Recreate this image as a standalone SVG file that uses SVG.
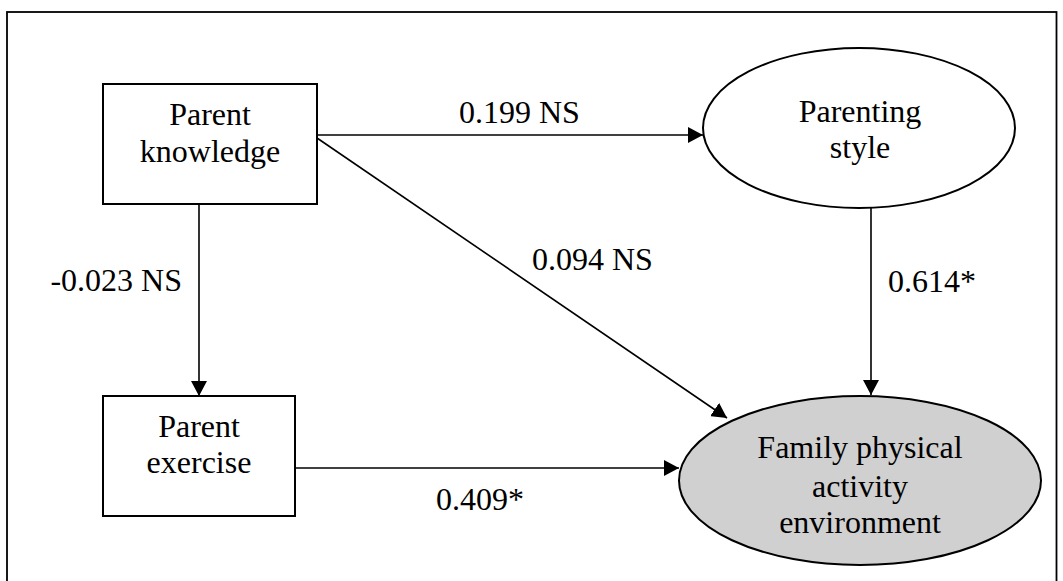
<svg xmlns="http://www.w3.org/2000/svg" width="1063" height="581" viewBox="0 0 1063 581">
<style>
text{font-family:"Liberation Serif","Times New Roman",serif;font-size:32px;fill:#000}
.n{text-anchor:middle}
.box{fill:#fff;stroke:#000;stroke-width:2}
.conn line{stroke:#000;stroke-width:1.6;fill:none}
</style>
<defs>
<marker id="ah" markerUnits="userSpaceOnUse" markerWidth="15" markerHeight="16" refX="15" refY="8" orient="auto">
<path d="M0,0 L15,8 L0,16 z" fill="#000"/>
</marker>
</defs>
<rect x="0" y="0" width="1063" height="581" fill="#fff"/>
<rect x="7" y="12" width="1049.5" height="600" fill="none" stroke="#000" stroke-width="1.8"/>
<g id="connectors" class="conn">
<line x1="317" y1="135" x2="703" y2="135" marker-end="url(#ah)"/>
<line x1="317" y1="138" x2="727" y2="418" marker-end="url(#ah)"/>
<line x1="199" y1="204" x2="199" y2="396" marker-end="url(#ah)"/>
<line x1="871" y1="207" x2="871" y2="395" marker-end="url(#ah)"/>
<line x1="295" y1="468" x2="679" y2="468" marker-end="url(#ah)"/>
<text x="459" y="123">0.199 NS</text>
<text x="532" y="270">0.094 NS</text>
<text x="182" y="291" text-anchor="end">-0.023 NS</text>
<text x="888" y="292">0.614*</text>
<text x="436" y="510">0.409*</text>
</g>
<g id="parent-knowledge">
<rect class="box" x="103" y="84" width="214" height="120"/>
<text class="n" x="210" y="125">Parent</text>
<text class="n" x="210" y="162">knowledge</text>
</g>
<g id="parenting-style">
<ellipse cx="859" cy="128" rx="156" ry="80" fill="#fff" stroke="#000" stroke-width="2"/>
<text class="n" x="860" y="122">Parenting</text>
<text class="n" x="860" y="158">style</text>
</g>
<g id="parent-exercise">
<rect class="box" x="103" y="396" width="192" height="120"/>
<text class="n" x="199" y="437">Parent</text>
<text class="n" x="199" y="473">exercise</text>
</g>
<g id="family-pa-environment">
<ellipse cx="860" cy="480.5" rx="181" ry="84.5" fill="#d0d0d0" stroke="#000" stroke-width="2"/>
<text class="n" x="860" y="458">Family physical</text>
<text class="n" x="860" y="497">activity</text>
<text class="n" x="860" y="533">environment</text>
</g>
</svg>
